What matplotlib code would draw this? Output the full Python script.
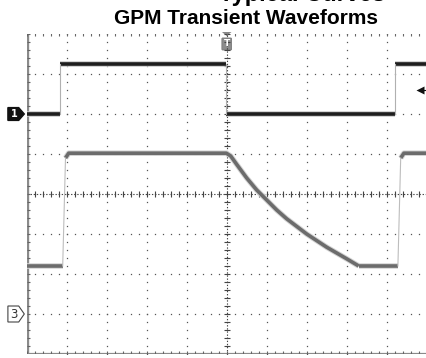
import numpy as np
import matplotlib.pyplot as plt
from matplotlib.patches import Polygon, FancyBboxPatch

# scope screen: 10 divisions across, 8 down, values in divisions
ch1_low = 2.0
ch1_high = 3.25
ch1_edges = [0.83, 4.99, 9.2]          # rise, fall, rise

ch2_low = -1.8
ch2_high = 1.02
ch2_rise = [0.9, 9.28]
# output decay after the fall at the trigger point
decay_x = [4.99, 5.1, 5.25, 5.5, 5.75, 6.0, 6.25, 6.5, 7.0, 7.5, 8.0, 8.3]
decay_y = [1.02, 0.95, 0.74, 0.40, 0.10, -0.15, -0.40, -0.62, -1.0, -1.33, -1.62, -1.80]

ch1_ref = 2.0
ch3_ref = -3.0
trig_level = 2.6

fig = plt.figure(figsize=(4.26, 3.58), dpi=100)
ax = fig.add_axes([26.7 / 426, 4 / 358, 400 / 426, 320 / 358])
ax.set_xlim(0, 10)
ax.set_ylim(-4, 4)
ax.axis('off')

# dotted graticule
for gx in range(1, 10):
    ys = np.arange(-4, 4.01, 0.2)
    ax.plot([gx] * len(ys), ys, ls='none', marker='s', ms=0.9, color='#555555', mec='none')
for gy in range(-3, 4):
    xs = np.arange(0, 10.01, 0.2)
    ax.plot(xs, [gy] * len(xs), ls='none', marker='s', ms=0.9, color='#555555', mec='none')

# centre cross-hair with minor ticks
xs = np.arange(0, 10.01, 0.2)
ax.plot([0, 10], [0, 0], ls=(0, (1.2, 1.6)), lw=0.8, color='#444444')
ax.vlines(xs, -0.07, 0.07, color='#444444', lw=0.8)
ys = np.arange(-4, 4.01, 0.2)
ax.plot([5, 5], [-4, 4], ls=(0, (1.2, 1.6)), lw=0.8, color='#444444')
ax.hlines(ys, 4.93, 5.07, color='#444444', lw=0.8)

# frame with edge ticks
ax.plot([0, 0], [-4, 4.05], color='#8a8a8a', lw=2.4, solid_capstyle='butt')
ax.plot([0, 10], [4.05, 4.05], color='#8a8a8a', lw=1.6, solid_capstyle='butt')
ax.plot([0, 10], [-4, -4], color='#8a8a8a', lw=1.6, solid_capstyle='butt')
ax.hlines(ys, 0, 0.07, color='#666666', lw=0.8)
ax.vlines(xs, 3.95, 4.05, color='#666666', lw=0.8)
ax.vlines(xs, -4, -3.93, color='#666666', lw=0.8)

# channel 1: thick levels, faint edges
levels = [ch1_low, ch1_high, ch1_low, ch1_high]
bounds = [0] + ch1_edges + [10]
for i, lev in enumerate(levels):
    ax.plot([bounds[i], bounds[i + 1]], [lev, lev], color='#c8c8c8', lw=4, solid_capstyle='butt')
    ax.plot([bounds[i], bounds[i + 1]], [lev, lev], color='#1e1e1e', lw=2.6, solid_capstyle='butt')
for e in ch1_edges:
    ax.plot([e, e], [ch1_low, ch1_high], color='#b0b0b0', lw=0.8)

# channel 2
gx1 = [0, ch2_rise[0]]
gy1 = [ch2_low, ch2_low]
gx2 = [ch2_rise[0] + 0.07, ch2_rise[0] + 0.15] + decay_x
gy2 = [ch2_high - 0.12, ch2_high] + decay_y
gx3 = [decay_x[-1], ch2_rise[1]]
gy3 = [ch2_low, ch2_low]
gx4 = [ch2_rise[1] + 0.07, ch2_rise[1] + 0.15, 10]
gy4 = [ch2_high - 0.12, ch2_high, ch2_high]
for px, py in [(gx1, gy1), (gx2, gy2), (gx3, gy3), (gx4, gy4)]:
    ax.plot(px, py, color='#d4d4d4', lw=4, solid_capstyle='butt', solid_joinstyle='round')
    ax.plot(px, py, color='#6c6c6c', lw=2.6, solid_capstyle='butt', solid_joinstyle='round')
for r in ch2_rise:
    ax.plot([r, r + 0.07], [ch2_low, ch2_high - 0.12], color='#bdbdbd', lw=0.8)

# channel reference markers
m1 = Polygon([[-0.47, ch1_ref + 0.16], [-0.2, ch1_ref + 0.16], [-0.06, ch1_ref],
              [-0.2, ch1_ref - 0.16], [-0.47, ch1_ref - 0.16]],
             closed=True, fc='#111111', ec='#111111', clip_on=False)
ax.add_patch(m1)
ax.text(-0.3, ch1_ref, '1', color='white', fontsize=7, fontweight='bold',
        ha='center', va='center', clip_on=False)
m3 = Polygon([[-0.47, ch3_ref + 0.2], [-0.2, ch3_ref + 0.2], [-0.06, ch3_ref],
              [-0.2, ch3_ref - 0.2], [-0.47, ch3_ref - 0.2]],
             closed=True, fc='white', ec='#444444', lw=0.8, clip_on=False)
ax.add_patch(m3)
ax.text(-0.31, ch3_ref, '3', color='#333333', fontsize=8.5,
        ha='center', va='center', clip_on=False)

# trigger position marker
ax.add_patch(Polygon([[4.88, 4.05], [5.12, 4.05], [5.0, 3.95]], closed=True,
                     fc='#888888', ec='none', clip_on=False))
ax.add_patch(FancyBboxPatch((4.9, 3.62), 0.2, 0.26, boxstyle='round,pad=0.02',
                            fc='#8c8c8c', ec='#777777', lw=0.6, clip_on=False))
ax.text(5.0, 3.75, 'T', color='white', fontsize=6.5, fontweight='bold',
        ha='center', va='center')

# trigger level marker
ax.plot([9.82], [trig_level], marker='<', ms=6, color='#111111', mec='none', clip_on=False)
ax.plot([9.82, 10.2], [trig_level, trig_level], color='#111111', lw=0.8, clip_on=False)

fig.text(246 / 426, 1 - 18.5 / 358, 'GPM Transient Waveforms', ha='center', va='center',
         fontsize=15, fontweight='bold', family=['Liberation Sans', 'DejaVu Sans'])
fig.text(219 / 426, 1 - 1.5 / 358, 'Typical Curves', ha='left', va='baseline',
         fontsize=17, fontweight='bold', family=['Liberation Sans', 'DejaVu Sans'])

fig.savefig('out.png', dpi=100)
